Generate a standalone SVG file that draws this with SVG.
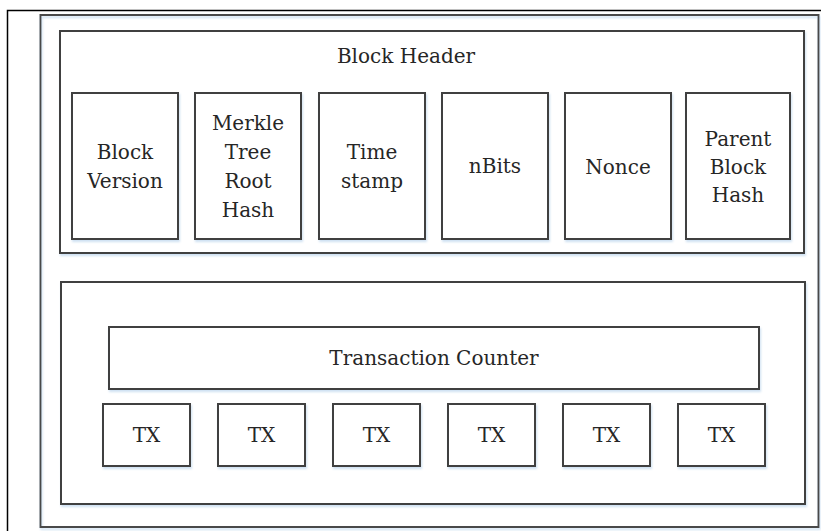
<svg xmlns="http://www.w3.org/2000/svg" width="821" height="531" viewBox="0 0 821 531">
  <style>
    .frame { fill: none; stroke: #4a4a4a; stroke-width: 2; }
    .box { fill: #ffffff; stroke: #404040; stroke-width: 2; filter: url(#soft); }
    .label { font-family: "DejaVu Serif", serif; font-size: 20px; fill: #262626; text-anchor: middle; }
  </style>
  <defs>
    <filter id="soft" x="-10%" y="-10%" width="120%" height="120%">
      <feDropShadow dx="1" dy="2" stdDeviation="1.2" flood-color="#b9d3ec" flood-opacity="0.7"/>
    </filter>
  </defs>

  <rect x="0" y="0" width="821" height="531" fill="#ffffff"/>

  <!-- page frame -->
  <rect x="7.5" y="10.5" width="830" height="540" fill="none" stroke="#000000" stroke-width="1.5"/>

  <!-- block frame -->
  <g id="block">
    <rect class="frame" x="40.5" y="15" width="778" height="512" filter="url(#soft)"/>
  </g>

  <!-- block header -->
  <g id="block-header">
    <rect class="box" x="60" y="31" width="744" height="222"/>
    <text class="label" x="406" y="63">Block Header</text>
  </g>

  <g id="block-version">
    <rect class="box" x="72" y="93" width="106" height="146"/>
    <text class="label" x="125" y="159">Block</text>
    <text class="label" x="125" y="188">Version</text>
  </g>

  <g id="merkle-root">
    <rect class="box" x="195" y="93" width="106" height="146"/>
    <text class="label" x="248" y="130">Merkle</text>
    <text class="label" x="248" y="159">Tree</text>
    <text class="label" x="248" y="188">Root</text>
    <text class="label" x="248" y="217">Hash</text>
  </g>

  <g id="timestamp">
    <rect class="box" x="319" y="93" width="106" height="146"/>
    <text class="label" x="372" y="159">Time</text>
    <text class="label" x="372" y="188">stamp</text>
  </g>

  <g id="nbits">
    <rect class="box" x="442" y="93" width="106" height="146"/>
    <text class="label" x="495" y="173">nBits</text>
  </g>

  <g id="nonce">
    <rect class="box" x="565" y="93" width="106" height="146"/>
    <text class="label" x="618" y="174">Nonce</text>
  </g>

  <g id="parent-hash">
    <rect class="box" x="686" y="93" width="104" height="146"/>
    <text class="label" x="738" y="146">Parent</text>
    <text class="label" x="738" y="174">Block</text>
    <text class="label" x="738" y="202">Hash</text>
  </g>

  <!-- block body -->
  <g id="block-body">
    <rect class="box" x="61" y="282" width="744" height="222"/>
  </g>

  <g id="tx-counter">
    <rect class="box" x="109" y="327" width="650" height="62"/>
    <text class="label" x="434" y="365">Transaction Counter</text>
  </g>

  <g id="tx-1">
    <rect class="box" x="103" y="404" width="87" height="62"/>
    <text class="label" x="146.5" y="442">TX</text>
  </g>
  <g id="tx-2">
    <rect class="box" x="218" y="404" width="87" height="62"/>
    <text class="label" x="261.5" y="442">TX</text>
  </g>
  <g id="tx-3">
    <rect class="box" x="333" y="404" width="87" height="62"/>
    <text class="label" x="376.5" y="442">TX</text>
  </g>
  <g id="tx-4">
    <rect class="box" x="448" y="404" width="87" height="62"/>
    <text class="label" x="491.5" y="442">TX</text>
  </g>
  <g id="tx-5">
    <rect class="box" x="563" y="404" width="87" height="62"/>
    <text class="label" x="606.5" y="442">TX</text>
  </g>
  <g id="tx-6">
    <rect class="box" x="678" y="404" width="87" height="62"/>
    <text class="label" x="721.5" y="442">TX</text>
  </g>

  <!-- no connectors in this layout -->
  <g id="connectors"/>
</svg>
